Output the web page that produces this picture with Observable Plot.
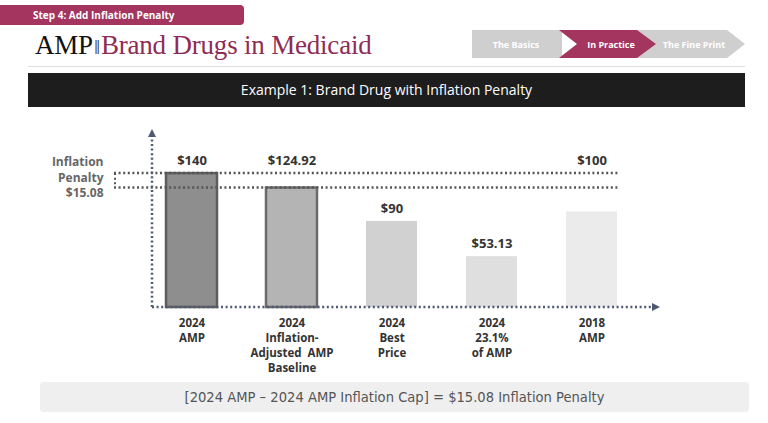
<!DOCTYPE html>
<html>
<head>
<meta charset="utf-8">
<script src="https://cdn.jsdelivr.net/npm/d3@7"></script>
<script src="https://cdn.jsdelivr.net/npm/@observablehq/plot@0.6"></script>
<style>
  html, body { margin: 0; padding: 0; background: #fff; }
  #page { position: relative; width: 768px; height: 423px; overflow: hidden; font-family: "Open Sans", sans-serif; }
  .abs { position: absolute; }
  #step { left: 0; top: 5px; width: 244px; height: 20px; background: #a3355f; border-radius: 0 4px 4px 0; color: #fff; font-weight: 700; font-size: 10px; line-height: 20px; padding-left: 33px; box-sizing: border-box; }
  #title { left: 35px; top: 28px; font-family: "Liberation Serif", "DejaVu Serif", serif; font-size: 27px; line-height: 34px; white-space: nowrap; letter-spacing: -0.2px; }
  #title .amp { color: #111; }
  #title .bar { color: #444; font-size: 22px; padding: 0 1px; }
  #title .rest { color: #8e2c56; }
  #rule { left: 28px; top: 66px; width: 717px; height: 1px; background: #ddd; }
  #banner { left: 28px; top: 73px; width: 717px; height: 34px; background: #1d1d1d; color: #fff; font-size: 14px; line-height: 34px; text-align: center; }
  #formula { left: 40px; top: 382px; width: 709px; height: 30px; background: #efefef; border-radius: 4px; color: #555; font-family: "DejaVu Sans Condensed", "Liberation Sans Narrow", sans-serif; font-weight: 400; font-size: 14.6px; line-height: 30px; text-align: center; }
  #chart { left: 0; top: 110px; }
  #nav { left: 470px; top: 29px; }
</style>
</head>
<body>
<div id="page">
  <div id="step" class="abs">Step 4: Add Inflation Penalty</div>
  <div id="title" class="abs"><span class="amp">AMP</span><span class="bar">‖</span><span class="rest">Brand Drugs in Medicaid</span></div>
  <svg id="nav" class="abs" width="280" height="30" viewBox="0 0 280 30">
    <polygon points="2,1 92,1 92,29 2,29" fill="#cfcfcf"/>
    <polygon points="166,1 257,1 275,15 257,29 166,29 184,15" fill="#cfcfcf"/>
    <polygon points="89,1 167,1 186,15 167,29 89,29 107,15" fill="#a3355f"/>
    <text x="46" y="18.5" fill="#fff" font-size="9" font-weight="700" text-anchor="middle" font-family="Open Sans">The Basics</text>
    <text x="141" y="18.5" fill="#fff" font-size="9" font-weight="700" text-anchor="middle" font-family="Open Sans">In Practice</text>
    <text x="224" y="18.5" fill="#fff" font-size="9" font-weight="700" text-anchor="middle" font-family="Open Sans">The Fine Print</text>
  </svg>
  <div id="rule" class="abs"></div>
  <div id="banner" class="abs">Example 1: Brand Drug with Inflation Penalty</div>
  <div id="chart" class="abs"></div>
  <div id="formula" class="abs">[2024 AMP – 2024 AMP Inflation Cap] = $15.08 Inflation Penalty</div>
</div>
<script>
// ---- data ----
const categories = ["2024 AMP", "2024 Inflation-Adjusted AMP Baseline", "2024 Best Price", "2024 23.1% of AMP", "2018 AMP"];
const categoryLabels = ["2024\nAMP", "2024\nInflation-\nAdjusted  AMP\nBaseline", "2024\nBest\nPrice", "2024\n23.1%\nof AMP", "2018\nAMP"];
const values = [140, 124.92, 90, 53.13, 100];
const capLines = [140, 124.92];
const raisedLabels = ["2024 Inflation-Adjusted AMP Baseline", "2018 AMP"];

// ---- styles ----
const barFills = ["#8e8e8e", "#b4b4b4", "#d1d1d1", "#dfdfdf", "#ebebeb"];
const barStrokes = ["#5e5e5e", "#6a6a6a", "none", "none", "none"];

const data = categories.map((c, i) => ({cat: c, label: categoryLabels[i], value: values[i], fill: barFills[i], stroke: barStrokes[i]}));
const fmt = v => Number.isInteger(v) ? "$" + v : "$" + v.toFixed(2);
const penalty = capLines[0] - capLines[1];
const midCap = (capLines[0] + capLines[1]) / 2;

const chart = Plot.plot({
  width: 768,
  height: 270,
  marginLeft: 152,
  marginRight: 111,
  marginTop: 21,
  marginBottom: 73,
  style: {fontFamily: "Open Sans", background: "transparent", overflow: "visible"},
  x: {type: "band", domain: categories, paddingInner: 0.49, paddingOuter: 0.2525, align: 0.256, axis: null},
  y: {domain: [0, 184], axis: null},
  marks: [
    Plot.barY(data, {x: "cat", y: "value", fill: d => d.fill, stroke: d => d.stroke, strokeWidth: 2.5}),
    Plot.text(data, {x: "cat", y: d => raisedLabels.includes(d.cat) ? capLines[0] : d.value, text: d => fmt(d.value), dy: -13, fontSize: 13, fontWeight: 700, fill: "#333"}),
    Plot.text(data, {x: "cat", y: 0, text: "label", lineAnchor: "top", dy: 9, fontSize: 11.5, fontWeight: 700, fill: "#333", lineHeight: 1.31}),
    Plot.text([midCap], {y: d => d, frameAnchor: "left", dx: -49, dy: -4, textAnchor: "end", text: () => "Inflation\nPenalty\n$" + penalty.toFixed(2), fontSize: 12, fontWeight: 700, fill: "#666", lineHeight: 1.3})
  ]
});

// ---- decorations (axes with arrows, cap lines) drawn with the plot's scales ----
const ys = chart.scale("y");
const xs = chart.scale("x");
const svg = d3.select(chart);
const y0 = ys.apply(0);
const xAxisLeft = 152;
const xAxisRight = 657;
const firstBand = xs.apply(categories[0]);
const lastBand = xs.apply(categories[categories.length - 1]) + xs.bandwidth;
const g = svg.append("g");
const axisColor = "#4e5a72";

// cap lines
capLines.forEach(v => {
  g.append("line").attr("x1", firstBand - 52).attr("x2", lastBand + 3)
    .attr("y1", ys.apply(v)).attr("y2", ys.apply(v))
    .attr("stroke", "#555").attr("stroke-width", 2.5).attr("stroke-dasharray", "2 2.6");
});
g.append("line").attr("x1", firstBand - 51).attr("x2", firstBand - 51)
  .attr("y1", ys.apply(capLines[0])).attr("y2", ys.apply(capLines[1]))
  .attr("stroke", "#555").attr("stroke-width", 2).attr("stroke-dasharray", "2 2.6");

// y axis
g.append("line").attr("x1", xAxisLeft).attr("x2", xAxisLeft).attr("y1", y0).attr("y2", 26)
  .attr("stroke", axisColor).attr("stroke-width", 2.5).attr("stroke-dasharray", "2 2.6");
g.append("path").attr("d", `M${xAxisLeft - 4},${27} L${xAxisLeft},${19} L${xAxisLeft + 4},${27} Z`).attr("fill", axisColor);
// x axis
g.append("line").attr("x1", xAxisLeft).attr("x2", xAxisRight - 4).attr("y1", y0).attr("y2", y0)
  .attr("stroke", axisColor).attr("stroke-width", 2.5).attr("stroke-dasharray", "2 2.6");
g.append("path").attr("d", `M${xAxisRight - 5},${y0 - 4} L${xAxisRight + 3},${y0} L${xAxisRight - 5},${y0 + 4} Z`).attr("fill", axisColor);

document.getElementById("chart").appendChild(chart);
</script>
</body>
</html>
